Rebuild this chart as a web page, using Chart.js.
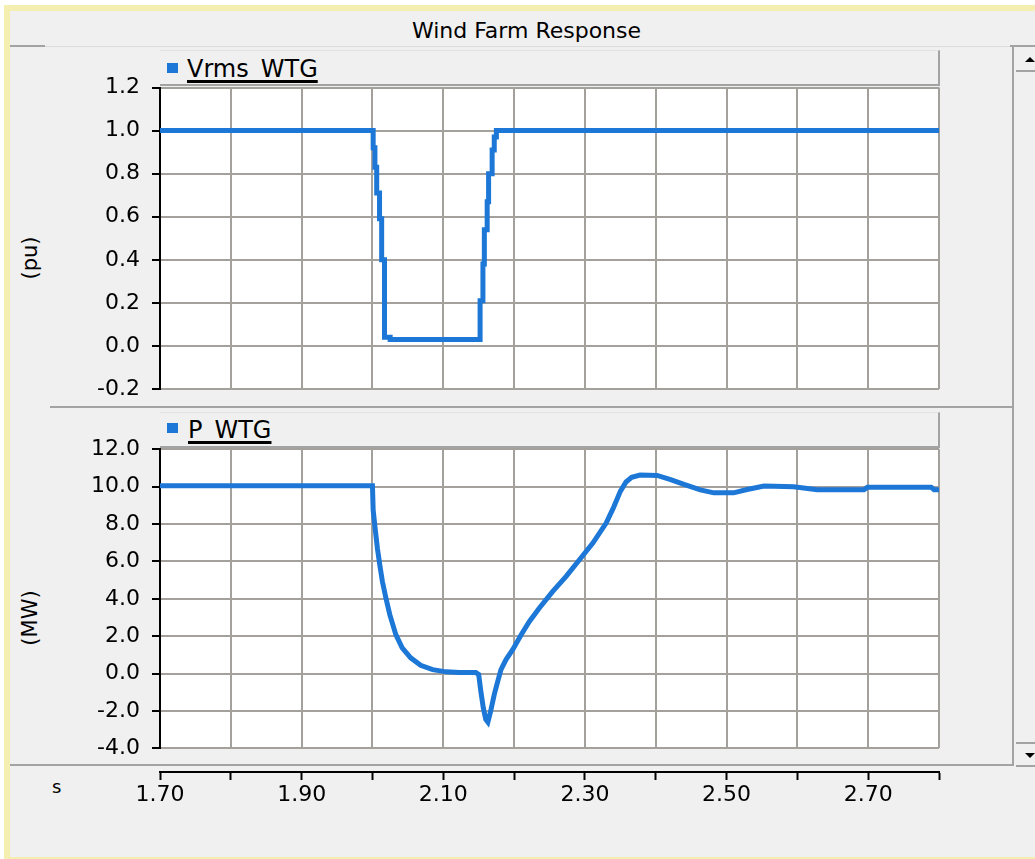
<!DOCTYPE html>
<html>
<head>
<meta charset="utf-8">
<title>Wind Farm Response</title>
<script src="https://cdn.jsdelivr.net/npm/chart.js@4/dist/chart.umd.min.js"></script>
<style>
  html, body { margin: 0; padding: 0; width: 1035px; height: 859px; overflow: hidden; background: #fff;
    font-family: "DejaVu Sans", Verdana, sans-serif; color: #000; }
  .abs { position: absolute; }
  #frame { left: 4px; top: 5px; width: 1031px; height: 854px; background: #f4efb0; }
  #win { left: 10px; top: 11px; width: 1025px; height: 846px; background: #f0f0f0; }
  .hl { height: 2px; background: #a3a3a3; }
  .vl { width: 2px; background: #a3a3a3; }
  #title { left: 9px; width: 1035px; top: 17px; height: 28px; line-height: 28px; font-size: 22px; text-align: center; white-space: nowrap; }
  .legend { left: 160px; width: 780px; height: 36px; box-sizing: border-box; background: #f0f0f0;
    border-top: 1px solid #e2e2e2; border-right: 2px solid #a3a3a3; border-bottom: 2px solid #a3a3a3; }
  .swatch { width: 11px; height: 10px; background: #1c77d6; }
  .ltext { font-size: 24px; line-height: 30px; height: 30px; white-space: nowrap;
    text-decoration: underline; text-decoration-thickness: 2.5px; text-underline-offset: 3px; }
  .ytitle { font-size: 21px; white-space: nowrap; transform: translate(-50%, -50%) rotate(-90deg); }
  canvas { position: absolute; }
  .arrow-up { width: 0; height: 0; border-left: 5px solid transparent; border-right: 5px solid transparent; border-bottom: 5px solid #000; }
  .arrow-down { width: 0; height: 0; border-left: 5px solid transparent; border-right: 5px solid transparent; border-top: 5px solid #000; }
</style>
</head>
<body>
<div id="frame" class="abs"></div>
<div id="win" class="abs"></div>

<!-- window title and panel frames -->
<div id="title" class="abs">Wind Farm Response</div>
<div class="abs hl" style="left:10px;top:45px;width:35px"></div>
<div class="abs" style="left:45px;top:46px;width:965px;height:1px;background:#dcdcdc"></div>
<div class="abs hl" style="left:1010px;top:45px;width:25px"></div>
<div class="abs hl" style="left:50px;top:406px;width:964px"></div>
<div class="abs hl" style="left:10px;top:764px;width:1004px"></div>
<div class="abs vl" style="left:1012px;top:46px;height:720px"></div>

<!-- scroll bar -->
<div class="abs hl" style="left:1016px;top:70px;width:19px"></div>
<div class="abs hl" style="left:1016px;top:742px;width:19px"></div>
<div class="abs hl" style="left:1016px;top:765px;width:19px"></div>
<div class="abs arrow-up" style="left:1025px;top:57px"></div>
<div class="abs arrow-down" style="left:1025px;top:753px"></div>

<!-- legends -->
<div class="abs legend" style="top:50px"></div>
<div class="abs swatch" style="left:167px;top:63px"></div>
<div class="abs ltext" style="left:187px;top:54px">Vrms_WTG</div>

<div class="abs legend" style="top:412px"></div>
<div class="abs swatch" style="left:167px;top:423px"></div>
<div class="abs ltext" style="left:188px;top:415px">P_WTG</div>

<!-- axis titles -->
<div class="abs ytitle" style="left:30px;top:258px">(pu)</div>
<div class="abs ytitle" style="left:30px;top:618px">(MW)</div>
<div class="abs" style="left:52px;top:775px;font-size:18px;line-height:24px">s</div>

<canvas id="chartV" width="950" height="362" style="left:0;top:57px"></canvas>
<canvas id="chartP" width="950" height="360" style="left:0;top:419px"></canvas>
<canvas id="chartT" width="950" height="60" style="left:0;top:757px"></canvas>

<script>
// Time axis (s)
const timeTicks = [1.70, 1.80, 1.90, 2.00, 2.10, 2.20, 2.30, 2.40, 2.50, 2.60, 2.70, 2.80];

// Terminal voltage, Vrms_WTG (pu)
const timeV   = [1.700, 2.001, 2.0035, 2.006, 2.010, 2.013, 2.017, 2.025, 2.152, 2.156, 2.158, 2.162, 2.164, 2.169, 2.172, 2.175, 2.800];
const vrmsWTG = [1.00,  0.92,  0.83,   0.71,  0.59,  0.40,  0.04,  0.03,  0.21,  0.38,  0.54,  0.67,  0.80,  0.91,  0.97,  1.00,  1.00];
const vTicks  = [-0.2, 0.0, 0.2, 0.4, 0.6, 0.8, 1.0, 1.2];

// Active power, P_WTG (MW)
const timeP = [1.700, 2.000, 2.001, 2.004, 2.007, 2.0104, 2.014, 2.019, 2.0245, 2.033, 2.042, 2.054, 2.068, 2.085,
               2.104, 2.123, 2.146, 2.150, 2.153, 2.1565, 2.160, 2.163, 2.167, 2.172, 2.177, 2.1815, 2.1886, 2.198,
               2.210, 2.2216, 2.2357, 2.2546, 2.2735, 2.2923, 2.3112, 2.330, 2.340, 2.350, 2.358, 2.366, 2.378,
               2.402, 2.421, 2.440, 2.463, 2.482, 2.510, 2.529, 2.553, 2.595, 2.628, 2.694, 2.699, 2.789, 2.793, 2.800];
const pWTG  = [10.05, 10.05, 8.75, 7.70, 6.70, 5.80, 4.93, 4.04, 3.15, 2.08, 1.37, 0.84, 0.44, 0.21,
               0.09, 0.05, 0.05, -0.05, -0.94, -1.83, -2.45, -2.60, -2.00, -1.12, -0.41, 0.21, 0.75, 1.28,
               2.08, 2.79, 3.51, 4.40, 5.20, 6.09, 6.98, 8.05, 8.85, 9.75, 10.25, 10.50, 10.62,
               10.60, 10.38, 10.12, 9.83, 9.67, 9.67, 9.85, 10.03, 10.00, 9.83, 9.83, 9.97, 9.97, 9.83, 9.83];
const pTicks = [-4.0, -2.0, 0.0, 2.0, 4.0, 6.0, 8.0, 10.0, 12.0];

const LINE = '#1c77d6';
const GRID = 'rgb(164,160,156)';
const FONT = "'DejaVu Sans', Verdana, sans-serif";

Chart.defaults.font.family = FONT;
Chart.defaults.color = '#000';
Chart.defaults.animation = false;

// white plot background
const plotBackground = {
  id: 'plotBackground',
  beforeDraw(chart) {
    const { ctx, chartArea: a } = chart;
    ctx.save();
    ctx.fillStyle = '#ffffff';
    ctx.fillRect(a.left, a.top, a.right - a.left, a.bottom - a.top);
    ctx.restore();
  }
};

const setTicks = (values) => (scale) => { scale.ticks = values.map(v => ({ value: v })); };

function timeScaleHidden() {
  return {
    type: 'linear', min: 1.7, max: 2.8,
    afterBuildTicks: setTicks(timeTicks),
    ticks: { display: false },
    grid: { color: GRID, lineWidth: 2, drawTicks: false },
    border: { display: false },
    afterFit(scale) { scale.height = 0; }
  };
}

function valueScale(min, max, values) {
  return {
    min, max,
    afterBuildTicks: setTicks(values),
    ticks: { font: { size: 22 }, color: '#000', padding: 12, callback: v => v.toFixed(1) },
    grid: { color: GRID, lineWidth: 2, drawTicks: true, tickLength: 8, tickColor: '#000', tickWidth: 2 },
    border: { display: true, color: '#000', width: 2 },
    afterFit(scale) { scale.width = 160; }
  };
}

function plotChart(id, label, xs, ys, yMin, yMax, yTicks, padTop, padBottom, stepped) {
  return new Chart(document.getElementById(id), {
    type: 'line',
    data: {
      datasets: [{
        label,
        data: xs.map((t, i) => ({ x: t, y: ys[i] })),
        borderColor: LINE,
        borderWidth: 5,
        pointRadius: 0,
        fill: false,
        tension: 0,
        stepped: stepped
      }]
    },
    options: {
      responsive: false,
      animation: false,
      layout: { padding: { top: padTop, right: 11, bottom: padBottom, left: 0 } },
      plugins: { legend: { display: false }, tooltip: { enabled: false } },
      scales: { x: timeScaleHidden(), y: valueScale(yMin, yMax, yTicks) }
    },
    plugins: [plotBackground]
  });
}

plotChart('chartV', 'Vrms_WTG', timeV, vrmsWTG, -0.2, 1.2, vTicks, 30.5, 30, 'before');
plotChart('chartP', 'P_WTG', timeP, pWTG, -4.0, 12.0, pTicks, 30.3, 30.7, false);

// shared time axis below both panels
new Chart(document.getElementById('chartT'), {
  type: 'line',
  data: { datasets: [] },
  options: {
    responsive: false,
    animation: false,
    layout: { padding: { top: 0, right: 11, bottom: 0, left: 160 } },
    plugins: { legend: { display: false }, tooltip: { enabled: false } },
    scales: {
      x: {
        type: 'linear', min: 1.7, max: 2.8,
        afterBuildTicks: setTicks(timeTicks),
        ticks: { font: { size: 22 }, color: '#000', padding: 2, autoSkip: false, maxRotation: 0,
                 callback: (v, i) => (i % 2 === 0 ? v.toFixed(2) : '') },
        grid: { drawOnChartArea: false, drawTicks: true, tickLength: 8, tickColor: '#000', tickWidth: 2 },
        border: { display: true, color: '#000', width: 2 },
        afterFit(scale) { scale.height = 45; }
      },
      y: { display: false, min: 0, max: 1 }
    }
  }
});
</script>
</body>
</html>
